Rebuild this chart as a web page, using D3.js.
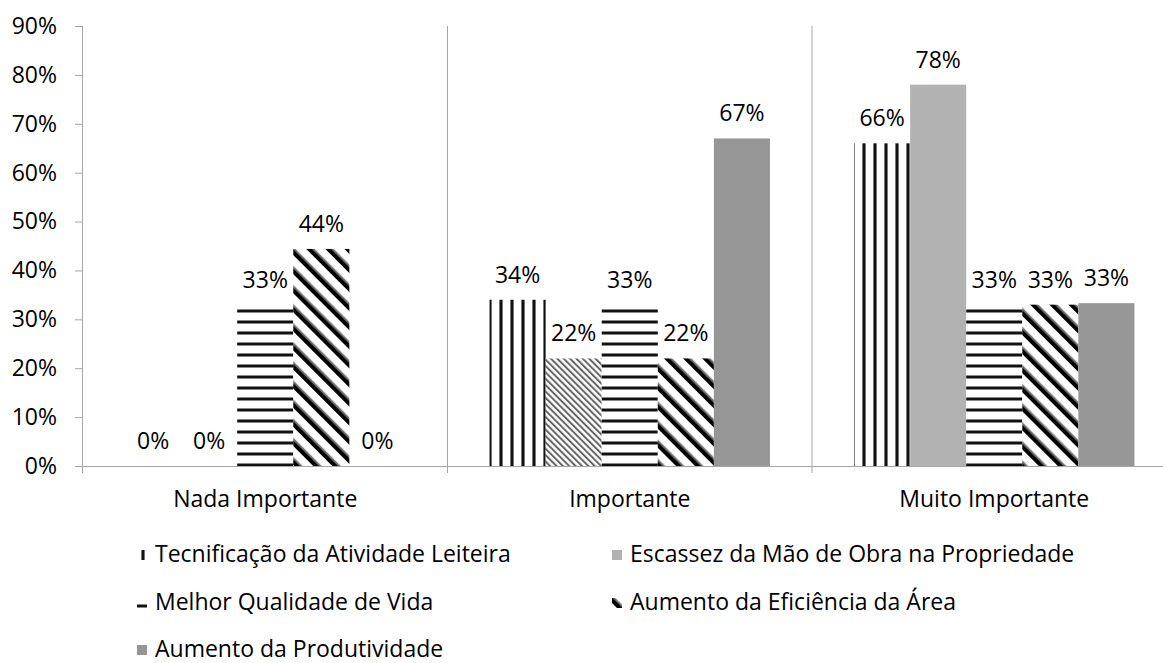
<!DOCTYPE html>
<html><head><meta charset="utf-8">
<script src="https://cdn.jsdelivr.net/npm/d3@7"></script>
<style>
html,body{margin:0;padding:0;background:#fff;}
svg{display:block;font-family:"Open Sans",sans-serif;}
</style></head>
<body>
<svg id="chart" width="1163" height="663"></svg>
<script>
const categories = ["Nada Importante", "Importante", "Muito Importante"];
const seriesNames = [
  "Tecnificação da Atividade Leiteira",
  "Escassez da Mão de Obra na Propriedade",
  "Melhor Qualidade de Vida",
  "Aumento da Eficiência da Área",
  "Aumento da Produtividade"
];
const tecnificacao = [0, 0.34, 0.66];
const escassez = [0, 0.22, 0.78];
const melhorQualidade = [0.33, 0.33, 0.33];
const eficiencia = [0.444, 0.22, 0.33];
const produtividade = [0, 0.67, 0.333];
const yTicks = [0, 0.1, 0.2, 0.3, 0.4, 0.5, 0.6, 0.7, 0.8, 0.9];

const seriesValues = [tecnificacao, escassez, melhorQualidade, eficiencia, produtividade];

const svg = d3.select("#chart");
const defs = svg.append("defs");
const FS = "23px";

function makePattern(id, w, h, transform, bg) {
  const p = defs.append("pattern").attr("id", id)
    .attr("patternUnits", "userSpaceOnUse").attr("width", w).attr("height", h);
  if (transform) p.attr("patternTransform", transform);
  p.append("rect").attr("width", w).attr("height", h).attr("fill", bg);
  return p;
}
// vertical stripes
let p = makePattern("pVert", 11, 11, null, "#fff");
p.append("rect").attr("x", 0).attr("y", 0).attr("width", 1).attr("height", 11).attr("fill", "#777");
p.append("rect").attr("x", 1).attr("y", 0).attr("width", 2).attr("height", 11).attr("fill", "#111");
p.append("rect").attr("x", 3).attr("y", 0).attr("width", 1).attr("height", 11).attr("fill", "#777");
p.attr("x", 4);
// horizontal stripes
p = makePattern("pHor", 11, 11, null, "#fff");
p.append("rect").attr("x", 0).attr("y", 0).attr("width", 11).attr("height", 1).attr("fill", "#888");
p.append("rect").attr("x", 0).attr("y", 1).attr("width", 11).attr("height", 2).attr("fill", "#111");
p.append("rect").attr("x", 0).attr("y", 3).attr("width", 11).attr("height", 1).attr("fill", "#888");
p.attr("y", 1);
// thick diagonal
p = makePattern("pDiag", 13.5, 13.5, "rotate(-45)", "#fff");
p.append("rect").attr("x", 0).attr("y", 0).attr("width", 4.5).attr("height", 13.5).attr("fill", "#000");
p.append("rect").attr("x", 4.5).attr("y", 0).attr("width", 1.5).attr("height", 13.5).attr("fill", "#777");
// fine diagonal (Escassez in Importante)
p = makePattern("pFine", 4.5, 4.5, "rotate(-45)", "#fff");
p.append("rect").attr("x", 0).attr("y", 0).attr("width", 2).attr("height", 4.5).attr("fill", "#666");

const seriesFill = ["url(#pVert)", "#b2b2b2", "url(#pHor)", "url(#pDiag)", "#969696"];
const pointOverride = {"1-1": "url(#pFine)"};

const plotLeft = 83, groupW = 364.5, plotTop = 26, plotBottom = 466;
const x0 = d3.scaleBand().domain(categories).range([plotLeft, plotLeft + groupW * categories.length]).padding(0);
const x1 = d3.scaleBand().domain(d3.range(seriesNames.length)).range([0, groupW]).paddingInner(0).paddingOuter(0.75);
const y = d3.scaleLinear().domain([0, 0.9]).range([plotBottom, plotTop]);

const axisColor = "#a6a6a6";

// vertical dividers
const divs = d3.range(1, categories.length + 1).map(i => plotLeft + groupW * i);
svg.append("g").selectAll("line").data(divs).join("line")
  .attr("x1", d => d).attr("x2", d => d).attr("y1", plotTop).attr("y2", plotBottom + 7)
  .attr("stroke", axisColor).attr("stroke-width", 1);

// bars
const data = [];
categories.forEach((c, ci) => seriesNames.forEach((s, si) => data.push({c, ci, si, v: seriesValues[si][ci]})));
svg.append("g").selectAll("rect").data(data.filter(d => d.v > 0)).join("rect")
  .attr("x", d => x0(d.c) + x1(d.si))
  .attr("y", d => y(d.v))
  .attr("width", x1.bandwidth())
  .attr("height", d => y(0) - y(d.v))
  .attr("fill", d => pointOverride[d.si + "-" + d.ci] || seriesFill[d.si]);

// y axis
const yAxis = svg.append("g").attr("transform", `translate(${plotLeft},0)`)
  .call(d3.axisLeft(y).tickValues(yTicks).tickFormat(d3.format(".0%")).tickSize(8).tickPadding(18));
yAxis.select(".domain").attr("stroke", axisColor).attr("d", `M-0.5,${plotTop}V${plotBottom}`);
yAxis.selectAll(".tick line").attr("stroke", axisColor);
yAxis.selectAll(".tick text").attr("fill", "#000").style("font-size", FS).style("font-family", "Open Sans");

// x axis
const xAxis = svg.append("g").attr("transform", `translate(0,${plotBottom})`)
  .call(d3.axisBottom(x0).tickSize(0).tickPadding(25));
xAxis.select(".domain").attr("stroke", axisColor).attr("d", `M${plotLeft},0.5H${plotLeft + groupW * 3}`);
xAxis.selectAll(".tick text").attr("fill", "#000").style("font-size", FS).style("font-family", "Open Sans");
svg.append("line").attr("x1", plotLeft - 0.5).attr("x2", plotLeft - 0.5).attr("y1", plotBottom).attr("y2", plotBottom + 7).attr("stroke", axisColor);

// data labels
svg.append("g").selectAll("text").data(data).join("text")
  .attr("x", d => x0(d.c) + x1(d.si) + x1.bandwidth() / 2)
  .attr("y", d => y(d.v) - 17)
  .attr("text-anchor", "middle")
  .style("font-size", FS)
  .attr("fill", "#000")
  .text(d => Math.round(d.v * 100) + "%");

// legend
const legendPos = [[137, 555], [612, 555], [137, 603], [612, 603], [137, 650]];
const lg = svg.append("g").selectAll("g").data(seriesNames).join("g")
  .attr("transform", (d, i) => `translate(${legendPos[i][0]},${legendPos[i][1]})`);
lg.append("rect").attr("x", 0).attr("y", -5).attr("width", 10).attr("height", 10)
  .attr("fill", (d, i) => seriesFill[i]);
lg.append("text").attr("x", 18).attr("y", 7).style("font-size", FS).attr("fill", "#000").text(d => d);
</script>
</body></html>
